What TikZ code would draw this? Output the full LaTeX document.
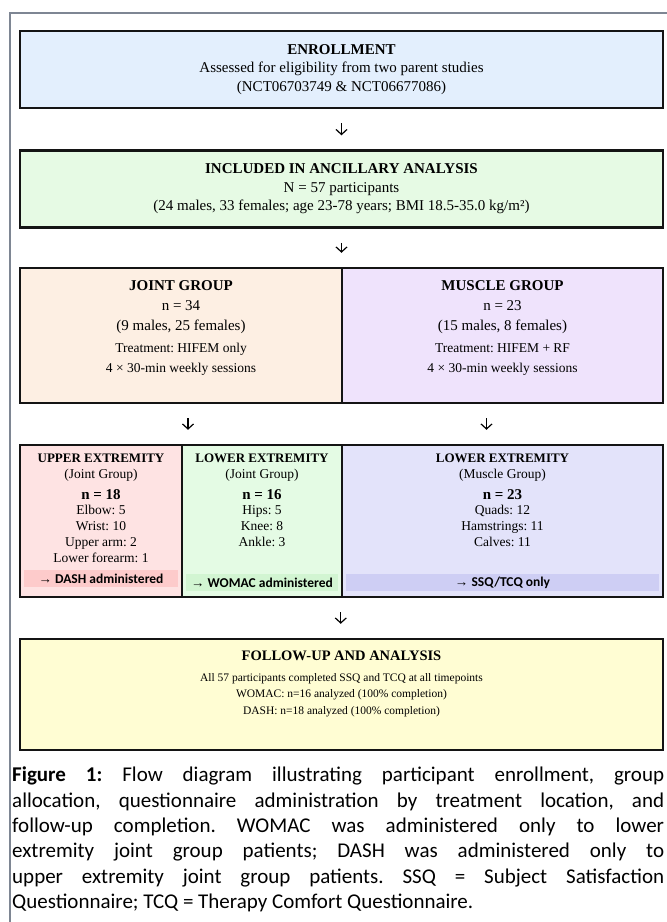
\documentclass[tikz,border=0pt]{standalone}
\usepackage{fontspec}
\setmainfont{Liberation Serif}
\newfontfamily\capfont{Carlito}
\newfontfamily\arrowfont{Liberation Sans}
\usepackage{xcolor}
\usepackage{tikz}
\usetikzlibrary{arrows.meta,positioning,calc}
\frenchspacing

\definecolor{framegray}{HTML}{7E8693}
\definecolor{enrollblue}{HTML}{E3EFFD}
\definecolor{inclgreen}{HTML}{E6FAE4}
\definecolor{jointpeach}{HTML}{FDEFE3}
\definecolor{musclelav}{HTML}{EFE3FC}
\definecolor{upperpink}{HTML}{FEE3E3}
\definecolor{dashpink}{HTML}{FDCBCB}
\definecolor{lowergreen}{HTML}{E4FBE4}
\definecolor{womacgreen}{HTML}{D2F5D2}
\definecolor{musclelow}{HTML}{E3E3FA}
\definecolor{ssqblue}{HTML}{CECEF4}
\definecolor{followyellow}{HTML}{FFFDD3}

\begin{document}
\begin{tikzpicture}[x=1pt,y=-1pt,
  box/.style={draw=black!92, line width=2.5pt, inner sep=0pt},
  boxtext/.style={align=center, inner sep=0pt, font=\fontsize{15}{18.5}\selectfont},
  grouptext/.style={align=center, inner sep=0pt, anchor=north, font=\fontsize{15}{20}\selectfont},
  lowtext/.style={align=center, inner sep=0pt, anchor=north, font=\fontsize{13.5}{15.8}\selectfont},
  followtext/.style={align=center, inner sep=0pt, anchor=north, font=\fontsize{11.5}{16.5}\selectfont},
  band/.style={inner sep=0pt, minimum height=17pt, font=\capfont\bfseries\fontsize{13.5}{15}\selectfont},
  flowarrow/.style={-{Straight Barb[length=5pt,width=11pt]}, line width=1.2pt, shorten <=14pt, shorten >=14pt}]
  \useasboundingbox (0,0) rectangle (667,922);
  \draw[framegray, line width=2pt] (10,922) -- (10,13) -- (667,13);

  \node[box, fill=enrollblue, minimum width=643pt, minimum height=77pt] (enroll) at (341.5,69.5) {};
  \node[boxtext] (enrolltext) at (enroll.center) {\textbf{ENROLLMENT}\\Assessed for eligibility from two parent studies\\(NCT06703749 \& NCT06677086)};

  \node[box, fill=inclgreen, minimum width=643pt, minimum height=77pt] (incl) at (341.5,189) {};
  \node[boxtext] (incltext) at (incl.center) {\textbf{INCLUDED IN ANCILLARY ANALYSIS}\\N = 57 participants\\(24 males, 33 females; age 23-78 years; BMI 18.5-35.0 kg/m²)};

  \node[box, fill=jointpeach, minimum width=322pt, minimum height=135pt] (joint) at (181,335.5) {};
  \node[box, fill=musclelav, minimum width=321pt, minimum height=135pt] (muscle) at (502.5,335.5) {};
  \node[grouptext] (jointtext) at ([yshift=-14pt]joint.north) {\textbf{JOINT GROUP}\\n = 34\\(9 males, 25 females)\\[2pt]{\fontsize{13.5}{20}\selectfont Treatment: HIFEM only}\\{\fontsize{13.5}{20}\selectfont 4 × 30-min weekly sessions}};
  \node[grouptext] (muscletext) at ([yshift=-14pt]muscle.north) {\textbf{MUSCLE GROUP}\\n = 23\\(15 males, 8 females)\\[2pt]{\fontsize{13.5}{20}\selectfont Treatment: HIFEM + RF}\\{\fontsize{13.5}{20}\selectfont 4 × 30-min weekly sessions}};

  \node[box, fill=upperpink, minimum width=162pt, minimum height=152pt] (upper) at (101,521) {};
  \node[box, fill=lowergreen, minimum width=160pt, minimum height=152pt] (lowjoint) at (262,521) {};
  \node[box, fill=musclelow, minimum width=321pt, minimum height=152pt] (lowmuscle) at (502.5,521) {};
  \node[lowtext] (uppertext) at ([yshift=-10pt]upper.north) {{\fontsize{13}{15}\selectfont\bfseries UPPER EXTREMITY}\\(Joint Group)\\[5pt]{\fontsize{15}{17}\selectfont\bfseries n = 18}\\Elbow: 5\\Wrist: 10\\Upper arm: 2\\Lower forearm: 1};
  \node[lowtext] (lowjointtext) at ([yshift=-10pt]lowjoint.north) {{\fontsize{13}{15}\selectfont\bfseries LOWER EXTREMITY}\\(Joint Group)\\[5pt]{\fontsize{15}{17}\selectfont\bfseries n = 16}\\Hips: 5\\Knee: 8\\Ankle: 3};
  \node[lowtext] (lowmuscletext) at ([yshift=-10pt]lowmuscle.north) {{\fontsize{13}{15}\selectfont\bfseries LOWER EXTREMITY}\\(Muscle Group)\\[5pt]{\fontsize{15}{17}\selectfont\bfseries n = 23}\\Quads: 12\\Hamstrings: 11\\Calves: 11};
  \node[band, fill=dashpink, minimum width=154pt] (dash) at (101,578.5) {{\arrowfont →} DASH administered};
  \node[band, fill=womacgreen, minimum width=152pt] (womac) at (262,582.5) {{\arrowfont →} WOMAC administered};
  \node[band, fill=ssqblue, minimum width=313pt] (ssq) at (502.5,582.5) {{\arrowfont →} SSQ/TCQ only};

  \node[box, fill=followyellow, minimum width=643pt, minimum height=111pt] (follow) at (341.5,694.5) {};
  \node[followtext] (followtext) at ([yshift=-13pt]follow.north) {{\fontsize{14.5}{17}\selectfont\bfseries FOLLOW-UP AND ANALYSIS}\\[4pt]All 57 participants completed SSQ and TCQ at all timepoints\\WOMAC: n=16 analyzed (100\% completion)\\DASH: n=18 analyzed (100\% completion)};

  \draw[flowarrow] (enroll) -- (incl);
  \draw[flowarrow] (incl.south) -- (incl.south |- joint.north);
  \draw[flowarrow] ([xshift=7pt]joint.south) -- ([xshift=7pt]joint.south |- upper.north);
  \draw[flowarrow] ([xshift=-16pt]muscle.south) -- ([xshift=-16pt]muscle.south |- lowmuscle.north);
  \draw[flowarrow] (lowmuscle.south west) -- (lowmuscle.south west |- follow.north);

  \node[anchor=north west, inner sep=0pt, align=left, font=\capfont\fontsize{21}{25.3}\selectfont] (caption) at (12,767) {%
    \makebox[652pt][s]{\textbf{Figure 1:} Flow diagram illustrating participant enrollment, group}\\
    \makebox[652pt][s]{allocation, questionnaire administration by treatment location, and}\\
    \makebox[652pt][s]{follow-up completion. WOMAC was administered only to lower}\\
    \makebox[652pt][s]{extremity joint group patients; DASH was administered only to}\\
    \makebox[652pt][s]{upper extremity joint group patients. SSQ = Subject Satisfaction}\\
    Questionnaire; TCQ = Therapy Comfort Questionnaire.};
\end{tikzpicture}
\end{document}
